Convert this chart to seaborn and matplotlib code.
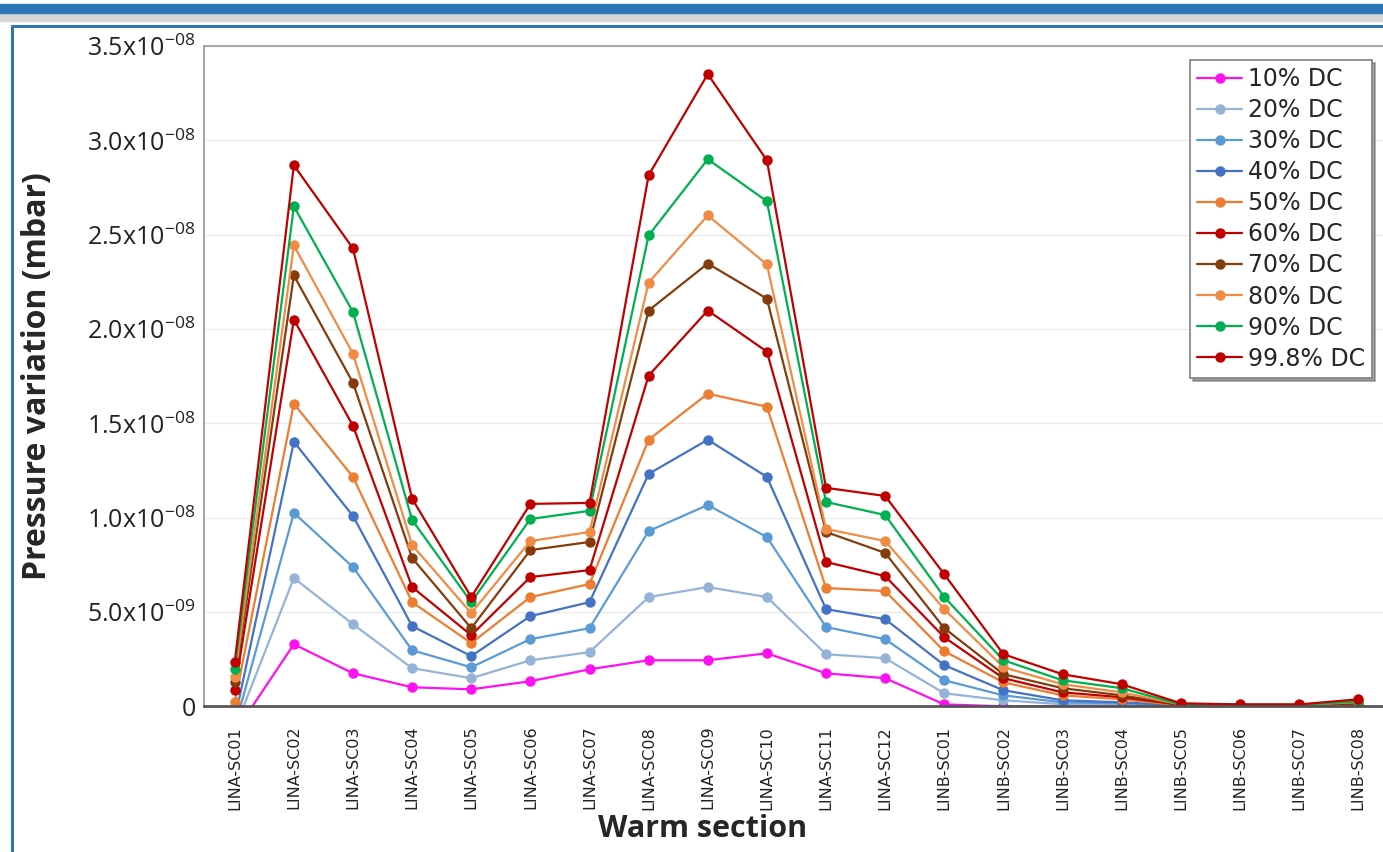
import numpy as np
import pandas as pd
import matplotlib
matplotlib.use("Agg")
import matplotlib.pyplot as plt
from matplotlib.lines import Line2D
from matplotlib.patches import Rectangle
import seaborn as sns

# sections along the warm part of the machine
sections = ["LINA-SC01", "LINA-SC02", "LINA-SC03", "LINA-SC04", "LINA-SC05",
            "LINA-SC06", "LINA-SC07", "LINA-SC08", "LINA-SC09", "LINA-SC10",
            "LINA-SC11", "LINA-SC12", "LINB-SC01", "LINB-SC02", "LINB-SC03",
            "LINB-SC04", "LINB-SC05", "LINB-SC06", "LINB-SC07", "LINB-SC08"]

# pressure variation (mbar), in units of 1e-9
dc10 = [-1.4, 3.29, 1.75, 1.01, 0.90, 1.33, 1.96, 2.44, 2.44, 2.81,
        1.75, 1.49, 0.10, 0.0, 0.0, 0.0, 0.0, 0.0, 0.0, 0.0]
dc20 = [-1.2, 6.80, 4.35, 2.02, 1.49, 2.44, 2.87, 5.79, 6.32, 5.79,
        2.76, 2.55, 0.69, 0.32, 0.11, 0.11, 0.03, 0.02, 0.02, 0.03]
dc30 = [-1.1, 10.25, 7.38, 2.97, 2.07, 3.56, 4.14, 9.29, 10.67, 8.97,
        4.20, 3.56, 1.38, 0.58, 0.21, 0.16, 0.04, 0.03, 0.03, 0.05]
dc40 = [-0.7, 14.02, 10.09, 4.25, 2.66, 4.78, 5.52, 12.32, 14.13, 12.16,
        5.15, 4.62, 2.18, 0.85, 0.32, 0.21, 0.05, 0.04, 0.04, 0.07]
dc50 = [0.21, 16.04, 12.16, 5.52, 3.35, 5.79, 6.48, 14.13, 16.57, 15.88,
        6.27, 6.11, 2.92, 1.27, 0.58, 0.37, 0.06, 0.05, 0.05, 0.10]
dc60 = [0.85, 20.50, 14.87, 6.32, 3.77, 6.85, 7.22, 17.53, 20.98, 18.80,
        7.65, 6.90, 3.66, 1.49, 0.74, 0.48, 0.08, 0.06, 0.06, 0.15]
dc70 = [1.27, 22.84, 17.15, 7.86, 4.14, 8.28, 8.71, 20.98, 23.47, 21.61,
        9.24, 8.13, 4.14, 1.70, 0.96, 0.58, 0.09, 0.07, 0.07, 0.18]
dc80 = [1.54, 24.43, 18.69, 8.55, 4.94, 8.76, 9.24, 22.46, 26.02, 23.42,
        9.40, 8.76, 5.15, 2.07, 1.17, 0.74, 0.10, 0.08, 0.08, 0.22]
dc90 = [2.00, 26.50, 20.90, 9.88, 5.52, 9.93, 10.36, 24.96, 29.00, 26.77,
        10.83, 10.14, 5.79, 2.44, 1.38, 0.96, 0.10, 0.08, 0.08, 0.26]
dc998 = [2.34, 28.68, 24.27, 11.00, 5.79, 10.73, 10.78, 28.15, 33.51, 28.94,
         11.58, 11.15, 7.00, 2.76, 1.70, 1.17, 0.16, 0.10, 0.10, 0.37]

series_names = ["10% DC", "20% DC", "30% DC", "40% DC", "50% DC",
                "60% DC", "70% DC", "80% DC", "90% DC", "99.8% DC"]
series_values = [dc10, dc20, dc30, dc40, dc50, dc60, dc70, dc80, dc90, dc998]
colors = ["#FF10F0", "#95B3D7", "#5B9BD5", "#4472C4", "#ED7D31",
          "#C00000", "#843C0C", "#F08C45", "#00B050", "#C00000"]

yticks = [0, 5e-9, 1e-8, 1.5e-8, 2e-8, 2.5e-8, 3e-8, 3.5e-8]
ytick_labels = ["0"] + [m + "x10$^{\\mathregular{" + e + "}}$" for m, e in
                        [("5.0", "-09"), ("1.0", "-08"), ("1.5", "-08"), ("2.0", "-08"),
                         ("2.5", "-08"), ("3.0", "-08"), ("3.5", "-08")]]

rows = []
for name, vals in zip(series_names, series_values):
    for i, v in enumerate(vals):
        rows.append({"pos": i, "value": v * 1e-9, "dc": name})
df = pd.DataFrame(rows)

sns.set_theme(style="white")
plt.rcParams["font.family"] = ["DejaVu Sans"]

fig = plt.figure(figsize=(13.83, 8.52), dpi=100)
ax = fig.add_axes([0.1475, 0.171, 0.8525, 0.775])

sns.lineplot(data=df, x="pos", y="value", hue="dc", hue_order=series_names,
             palette=colors, marker="o", markersize=7.5, markeredgewidth=0,
             linewidth=1.6, ax=ax, legend=True)

ax.set_xlim(-0.52, 19.42)
ax.set_ylim(0, 3.5e-8)
ax.set_yticks(yticks)
ax.set_yticklabels(ytick_labels, fontsize=18, family="Open Sans", color="#222222")
ax.set_xticks(range(len(sections)))
ax.set_xticklabels(sections, rotation=90, fontsize=11.5, color="#222222")
ax.tick_params(axis="both", length=0, pad=6)
ax.tick_params(axis="x", pad=14)
ax.yaxis.grid(True, color="#EBEBEB", linewidth=1)

ax.set_xlabel("Warm section", fontsize=22, fontweight="bold", family="Open Sans")
ax.xaxis.set_label_coords(0.423, -0.163)
ax.set_ylabel("Pressure variation (mbar)", fontsize=23, fontweight="bold",
              family="Open Sans")
ax.yaxis.set_label_coords(-0.127, 0.5)

ax.spines["right"].set_visible(False)
ax.spines["left"].set_color("#9A9A9A")
ax.spines["top"].set_color("#9A9A9A")
ax.spines["bottom"].set_color("#555555")
ax.spines["bottom"].set_linewidth(2)

leg = ax.legend(loc="upper right", bbox_to_anchor=(0.991, 0.979), fontsize=17,
                frameon=True, fancybox=False, shadow=True, labelspacing=0.3,
                handlelength=1.9, handletextpad=0.25, borderpad=0.3,
                borderaxespad=0)
leg.get_frame().set_edgecolor("#7F7F7F")
leg.get_frame().set_linewidth(1.2)

# decorative slide frame
fig.add_artist(Rectangle((0, 1 - 21 / 852), 1, 8 / 852, transform=fig.transFigure,
                         color="#D6D6D6", zorder=0))
fig.add_artist(Rectangle((0, 1 - 13 / 852), 1, 9 / 852, transform=fig.transFigure,
                         color="#2E75B6", zorder=1))
fig.add_artist(Line2D([12 / 1383, 1], [1 - 26 / 852, 1 - 26 / 852],
                      transform=fig.transFigure, color="#2E75B6", linewidth=2.2))
fig.add_artist(Line2D([12 / 1383, 12 / 1383], [0, 1 - 26 / 852],
                      transform=fig.transFigure, color="#2E75B6", linewidth=2.2))

fig.savefig("out.png", dpi=100)
